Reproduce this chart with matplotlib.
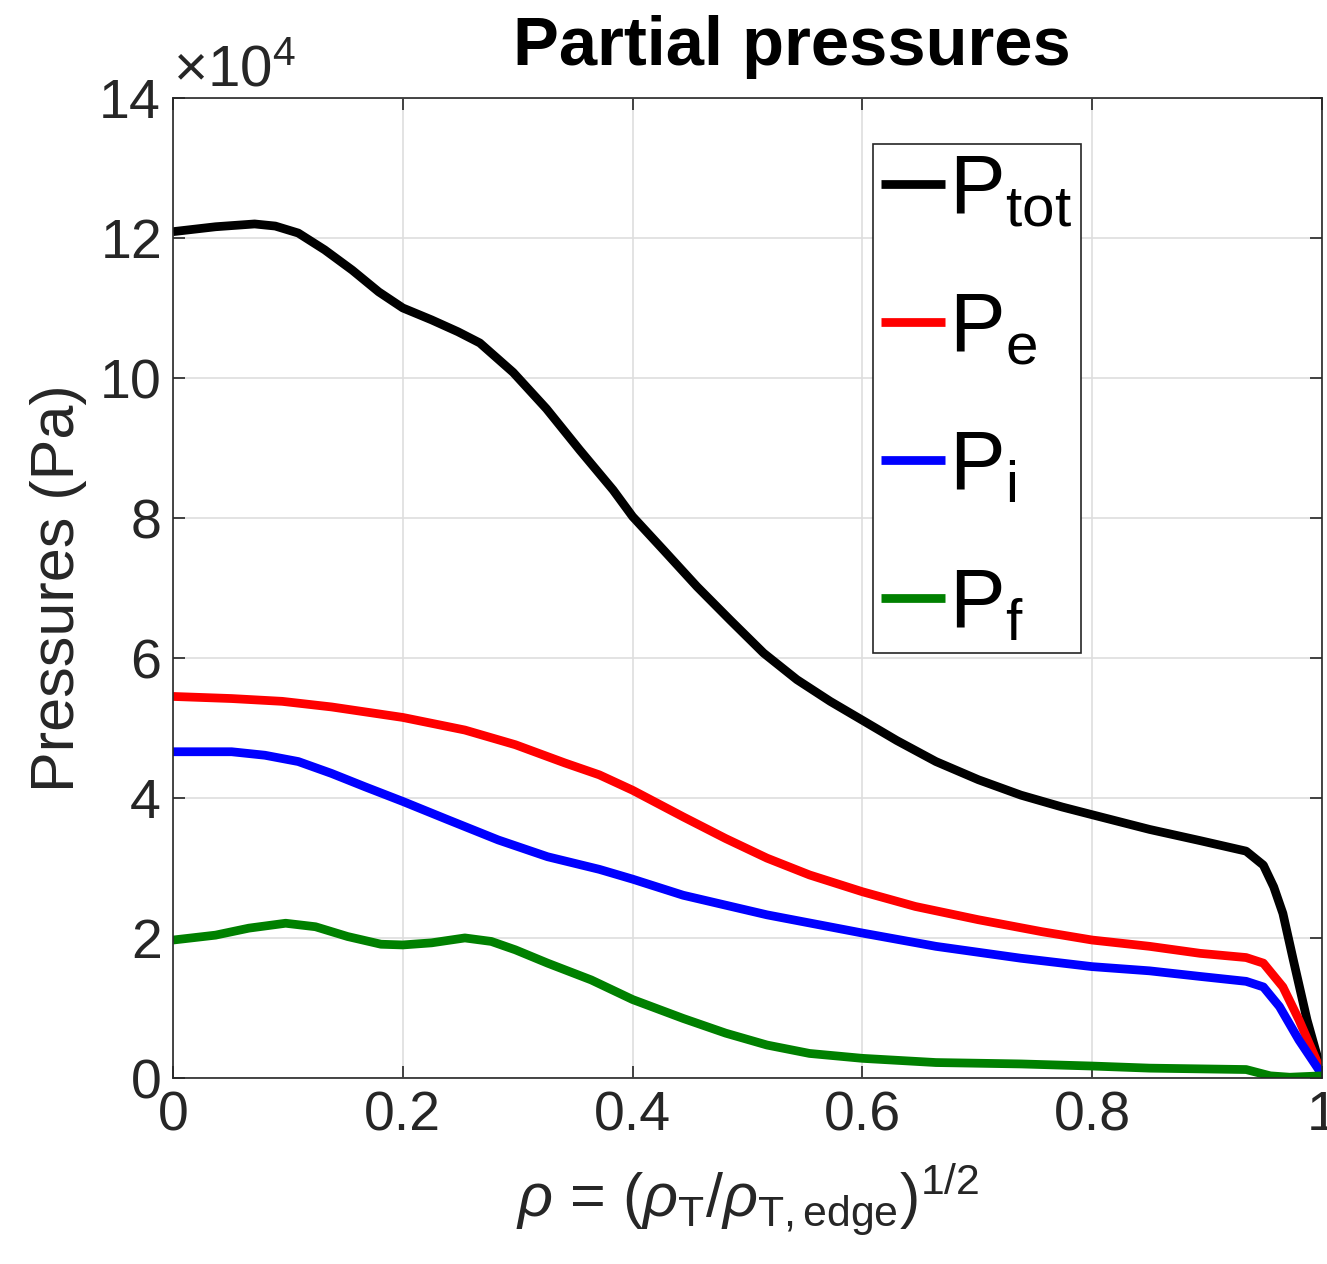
import numpy as np
import matplotlib
matplotlib.use("Agg")
import matplotlib.pyplot as plt

plt.rcParams['font.family'] = ['Liberation Sans', 'DejaVu Sans']
plt.rcParams['mathtext.fontset'] = 'custom'
plt.rcParams['mathtext.rm'] = 'Liberation Sans'
plt.rcParams['mathtext.it'] = 'Liberation Sans:italic'
plt.rcParams['mathtext.bf'] = 'Liberation Sans:bold'

# Pressure profiles vs normalised radius (values in units of 1e4 Pa)
rho_tot = [0, 0.037, 0.071, 0.089, 0.109, 0.132, 0.156, 0.179, 0.2, 0.225, 0.248,
           0.267, 0.296, 0.325, 0.354, 0.383, 0.4, 0.427, 0.456, 0.485, 0.514,
           0.543, 0.572, 0.6, 0.63, 0.664, 0.701, 0.738, 0.774, 0.8, 0.85, 0.894,
           0.934, 0.949, 0.958, 0.966, 0.975, 0.987, 1.0]
p_tot = [12.09, 12.16, 12.20, 12.17, 12.07, 11.83, 11.54, 11.23, 11.00, 10.83, 10.66,
         10.50, 10.08, 9.56, 8.97, 8.40, 8.02, 7.54, 7.02, 6.54, 6.07,
         5.69, 5.38, 5.11, 4.82, 4.52, 4.26, 4.04, 3.87, 3.76, 3.55, 3.39,
         3.24, 3.04, 2.73, 2.35, 1.69, 0.83, 0.07]

rho_e = [0, 0.051, 0.095, 0.138, 0.2, 0.254, 0.298, 0.341, 0.371, 0.4, 0.444, 0.481,
         0.517, 0.554, 0.6, 0.646, 0.701, 0.756, 0.8, 0.85, 0.894, 0.934, 0.949,
         0.966, 0.98, 1.0]
p_e = [5.45, 5.42, 5.38, 5.30, 5.15, 4.97, 4.76, 4.50, 4.33, 4.11, 3.73, 3.42,
       3.14, 2.90, 2.66, 2.45, 2.26, 2.09, 1.97, 1.88, 1.78, 1.72, 1.64,
       1.30, 0.83, 0.07]

rho_i = [0, 0.051, 0.08, 0.109, 0.138, 0.167, 0.2, 0.239, 0.283, 0.326, 0.371, 0.4,
         0.444, 0.517, 0.6, 0.664, 0.738, 0.8, 0.85, 0.894, 0.934, 0.949, 0.963,
         0.98, 1.0]
p_i = [4.66, 4.66, 4.61, 4.52, 4.35, 4.16, 3.95, 3.69, 3.40, 3.16, 2.98, 2.84,
       2.61, 2.33, 2.07, 1.88, 1.71, 1.59, 1.53, 1.45, 1.38, 1.30, 1.02,
       0.54, 0.05]

rho_f = [0, 0.037, 0.066, 0.098, 0.124, 0.152, 0.181, 0.2, 0.225, 0.254, 0.277, 0.298,
         0.326, 0.364, 0.4, 0.444, 0.481, 0.517, 0.554, 0.6, 0.664, 0.738, 0.8,
         0.85, 0.934, 0.955, 0.972, 1.0]
p_f = [1.97, 2.04, 2.14, 2.21, 2.16, 2.02, 1.91, 1.90, 1.93, 2.00, 1.95, 1.83,
       1.64, 1.40, 1.12, 0.85, 0.64, 0.47, 0.35, 0.28, 0.22, 0.20, 0.17,
       0.14, 0.12, 0.03, 0.01, 0.03]

scale = 1e4
labels = [r'$\mathrm{P}_{\mathrm{tot}}$', r'$\mathrm{P}_{\mathrm{e}}$',
          r'$\mathrm{P}_{\mathrm{i}}$', r'$\mathrm{P}_{\mathrm{f}}$']
colors = ['k', (1, 0, 0), (0, 0, 1), (0, 0.5, 0)]

fig = plt.figure(figsize=(13.27, 12.64), dpi=100)
ax = fig.add_axes([0.1304, 0.1472, 0.8658, 0.7753])

series = [(rho_tot, p_tot), (rho_e, p_e), (rho_i, p_i), (rho_f, p_f)]
for (r, p), c, lab in zip(series, colors, labels):
    ax.plot(r, np.array(p) * scale, color=c, lw=6.3, label=lab,
            solid_joinstyle='round', solid_capstyle='butt')

ax.set_xlim(0, 1)
ax.set_ylim(0, 14e4)
ax.set_xticks([0, 0.2, 0.4, 0.6, 0.8, 1])
ax.set_xticklabels(['0', '0.2', '0.4', '0.6', '0.8', '1'])
ax.set_yticks(np.arange(0, 14.1, 2) * scale)
ax.ticklabel_format(axis='y', style='sci', scilimits=(4, 4), useMathText=True)

edge = (0.15, 0.15, 0.15)
ax.grid(True, color=(0.87, 0.87, 0.87), lw=1.2)
ax.set_axisbelow(True)
for s in ax.spines.values():
    s.set_color(edge)
    s.set_linewidth(1.2)
ax.tick_params(direction='in', length=8.5, width=1.2, colors=edge,
               labelsize=40, pad=9, top=True, right=True)
# push the x10^4 multiplier a bit above the frame
ax.yaxis.OFFSETTEXTPAD = 9
ax.yaxis.get_offset_text().set_fontsize(42)
ax.yaxis.get_offset_text().set_color(edge)

ax.set_xlabel(r'$\rho$ = ($\rho_{\mathrm{T}}$/$\rho_{\mathrm{T,edge}}$)$^{1/2}$',
              fontsize=44, color=edge, labelpad=14)
ax.set_ylabel('Pressures (Pa)', fontsize=44, color=edge, labelpad=8)
ax.set_title('Partial pressures', fontsize=49.5, fontweight='bold', x=0.539, y=1.0, pad=24)

leg = ax.legend(loc='upper left', bbox_to_anchor=(0.609, 0.953), fontsize=60,
                handlelength=0.77, handletextpad=0.05, borderpad=0.1,
                borderaxespad=0, labelspacing=0.72, fancybox=False, framealpha=1)
leg.get_frame().set_edgecolor(edge)
leg.get_frame().set_linewidth(1.2)

fig.savefig('out.png', dpi=100)
